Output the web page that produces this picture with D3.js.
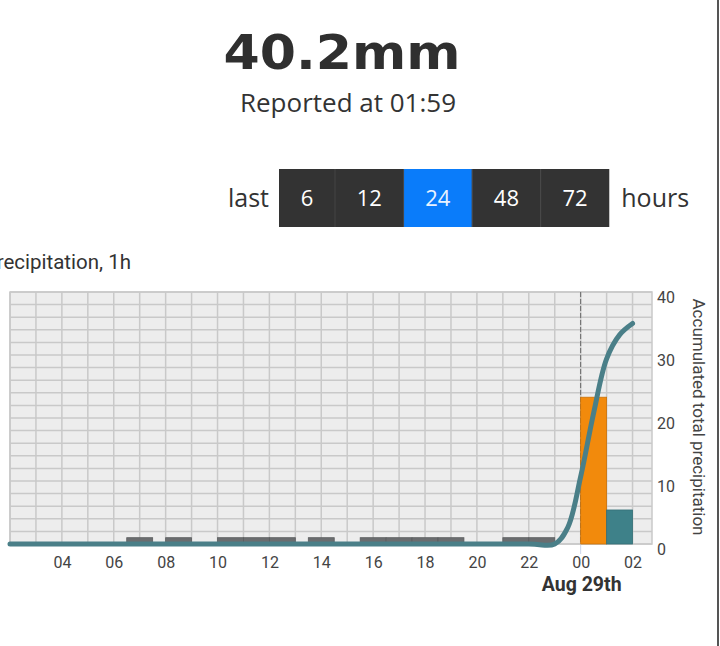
<!DOCTYPE html>
<html>
<head>
<meta charset="utf-8">
<script src="https://cdn.jsdelivr.net/npm/d3@7"></script>
<style>
  body { margin: 0; background: #fff; }
  svg { display: block; }
  text { font-family: Roboto, "Noto Sans", sans-serif; }
</style>
</head>
<body>
<div id="chart"></div>
<script>
// Headline values
var totalLabel = "40.2mm";
var reportedLabel = "Reported at 01:59";
var periodButtons = ["6", "12", "24", "48", "72"];
var selectedPeriod = "24";

// Hourly precipitation bars (start of each hour block, mm)
var barStarts = ["2023-08-28 06:30", "2023-08-28 08:00", "2023-08-28 10:00", "2023-08-28 11:00",
                 "2023-08-28 12:00", "2023-08-28 13:30", "2023-08-28 15:30", "2023-08-28 16:30",
                 "2023-08-28 17:30", "2023-08-28 18:30", "2023-08-28 21:00", "2023-08-28 22:00",
                 "2023-08-29 00:00", "2023-08-29 01:00"];
var barValues = [1, 1, 1, 1, 1, 1, 1, 1, 1, 1, 1, 1, 23.3, 5.4];
var barKinds = ["old", "old", "old", "old", "old", "old", "old", "old", "old", "old", "old", "old", "peak", "last"];

// Accumulated total precipitation line
var accTimes = ["2023-08-28 02:00", "2023-08-28 22:00", "2023-08-28 23:00", "2023-08-28 23:30",
                "2023-08-29 00:00", "2023-08-29 00:30", "2023-08-29 01:00", "2023-08-29 01:30",
                "2023-08-29 02:00"];
var accValues = [0, 0, 0, 2.6, 10.7, 20.8, 29.4, 33.2, 35];

// Axis ticks
var rightTicks = [0, 10, 20, 30, 40];

var parse = d3.timeParse("%Y-%m-%d %H:%M");
var W = 720, H = 646;
var margin = {left: 10, right: 68, top: 292, bottom: 102};

var svg = d3.select("#chart")
  .append("svg")
    .attr("width", W)
    .attr("height", H);

// Header
svg.append("text")
    .attr("x", 342).attr("y", 69)
    .attr("text-anchor", "middle")
    .attr("textLength", 237)
    .attr("lengthAdjust", "spacingAndGlyphs")
    .style("font-family", "'DejaVu Sans', sans-serif")
    .style("font-weight", 700)
    .style("font-size", "48px")
    .style("fill", "#2f2f2f")
    .text(totalLabel);

svg.append("text")
    .attr("x", 348).attr("y", 112)
    .attr("text-anchor", "middle")
    .style("font-family", "'Open Sans', sans-serif")
    .style("font-size", "26px")
    .style("fill", "#333")
    .text(reportedLabel);

// Period selector
var btnY = 169, btnH = 58, btnX = 279, pad = 21.7;
svg.append("text")
    .attr("x", 269).attr("y", 207)
    .attr("text-anchor", "end")
    .style("font-family", "'Open Sans', sans-serif")
    .style("font-size", "25px")
    .style("fill", "#333")
    .text("last");

var bx = btnX;
var btns = svg.append("g");
periodButtons.forEach(function(p, i) {
    var g = btns.append("g");
    var r = g.append("rect")
        .attr("y", btnY).attr("height", btnH)
        .style("fill", p === selectedPeriod ? "#0a7cfa" : "#333");
    var t = g.append("text")
        .attr("y", btnY + btnH / 2)
        .attr("dy", "0.35em")
        .attr("text-anchor", "middle")
        .style("font-family", "'Open Sans', sans-serif")
        .style("font-size", "22px")
        .style("fill", p === selectedPeriod ? "#e8f2ff" : "#fff")
        .text(p);
    var w = t.node().getComputedTextLength() + pad * 2;
    r.attr("x", bx).attr("width", w);
    t.attr("x", bx + w / 2);
    if (i > 0) {
        g.append("line")
            .attr("x1", bx).attr("x2", bx)
            .attr("y1", btnY).attr("y2", btnY + btnH)
            .style("stroke", "#444");
    }
    bx += w;
});

svg.append("text")
    .attr("x", bx + 12).attr("y", 207)
    .style("font-family", "'Open Sans', sans-serif")
    .style("font-size", "25px")
    .style("fill", "#333")
    .text("hours");

// Scales
var x = d3.scaleTime()
    .domain([parse("2023-08-28 02:00"), parse("2023-08-29 02:45")])
    .range([margin.left, W - margin.right]);

var y = d3.scaleLinear()
    .domain([0, 40])
    .range([H - margin.bottom, margin.top]);

// Plot background and grid
var plot = svg.append("g");
plot.append("rect")
    .attr("x", x.range()[0]).attr("y", y.range()[1])
    .attr("width", x.range()[1] - x.range()[0])
    .attr("height", y.range()[0] - y.range()[1])
    .style("fill", "#ededed")
    .style("stroke", "#c9c9c9")
    .style("stroke-width", 1.5);

plot.selectAll(".vgrid")
    .data(x.ticks(d3.timeHour.every(1)))
    .enter().append("line")
    .attr("x1", function(d) { return x(d); })
    .attr("x2", function(d) { return x(d); })
    .attr("y1", y.range()[1]).attr("y2", y.range()[0])
    .style("stroke", "#c9c9c9")
    .style("stroke-width", 1.5);

plot.selectAll(".hgrid")
    .data(y.ticks(20))
    .enter().append("line")
    .attr("x1", x.range()[0]).attr("x2", x.range()[1])
    .attr("y1", function(d) { return y(d); })
    .attr("y2", function(d) { return y(d); })
    .style("stroke", "#c9c9c9")
    .style("stroke-width", 1.5);

// Midnight marker
var midnight = parse("2023-08-29 00:00");
plot.append("line")
    .attr("x1", x(midnight)).attr("x2", x(midnight))
    .attr("y1", y.range()[1]).attr("y2", y.range()[0])
    .style("stroke", "#666")
    .style("stroke-dasharray", "5,2");
plot.append("line")
    .attr("x1", x(midnight)).attr("x2", x(midnight))
    .attr("y1", y.range()[0]).attr("y2", y.range()[0] + 10)
    .style("stroke", "#ccd6eb");

// Bars
var barData = barStarts.map(function(s, i) {
    return {t: parse(s), v: barValues[i], kind: barKinds[i]};
});
var fills = {old: "#6b6d6f", peak: "#f28a0c", last: "#3e8189"};
var strokes = {old: "#5a5c5e", peak: "#c9720a", last: "#356f76"};

plot.selectAll(".bar")
    .data(barData)
    .enter().append("rect")
    .attr("x", function(d) { return x(d.t); })
    .attr("width", function(d) { return x(d3.timeHour.offset(d.t, 1)) - x(d.t); })
    .attr("y", function(d) { return y(d.v); })
    .attr("height", function(d) { return y(0) - y(d.v); })
    .style("fill", function(d) { return fills[d.kind]; })
    .style("stroke", function(d) { return strokes[d.kind]; })
    .style("stroke-width", 0.8);

// Accumulated line
var accData = accTimes.map(function(s, i) { return {t: parse(s), v: accValues[i]}; });
var line = d3.line()
    .x(function(d) { return x(d.t); })
    .y(function(d) { return y(d.v); })
    .curve(d3.curveCatmullRom.alpha(0.5));

plot.append("path")
    .datum(accData)
    .attr("d", line)
    .style("fill", "none")
    .style("stroke", "#4a7f88")
    .style("stroke-width", 5)
    .style("stroke-linecap", "round")
    .style("stroke-linejoin", "round");

// X axis
var xTicks = x.ticks(d3.timeHour.every(2)).filter(function(d) { return x(d) > x.range()[0] + 20; });
var xAxis = svg.append("g")
    .attr("transform", "translate(0," + y.range()[0] + ")")
    .call(d3.axisBottom(x)
        .tickValues(xTicks)
        .tickFormat(d3.timeFormat("%H"))
        .tickSize(0)
        .tickPadding(13));
xAxis.select(".domain").remove();
xAxis.selectAll("text")
    .style("font-size", "16px")
    .style("fill", "#444");

svg.append("text")
    .attr("x", x(midnight) + 1).attr("y", 591)
    .attr("text-anchor", "middle")
    .style("font-size", "19.5px")
    .style("font-weight", 700)
    .style("fill", "#333")
    .text("Aug 29th");

// Right axis
var yAxis = svg.append("g")
    .attr("transform", "translate(" + x.range()[1] + ",5)")
    .call(d3.axisRight(y).tickValues(rightTicks).tickSize(0).tickPadding(5));
yAxis.select(".domain").remove();
yAxis.selectAll("text")
    .style("font-size", "16px")
    .style("fill", "#444");

svg.append("text")
    .attr("transform", "translate(699," + (y(20) - 1) + ") rotate(90)")
    .attr("text-anchor", "middle")
    .attr("dy", "0.35em")
    .style("font-size", "17px")
    .style("fill", "#444")
    .text("Accumulated total precipitation");

// Left axis title (partly off the page)
svg.append("text")
    .attr("x", 131).attr("y", 269)
    .attr("text-anchor", "end")
    .style("font-size", "20.5px")
    .style("fill", "#333")
    .text("Precipitation, 1h");

// Frame edge on the right
svg.append("line")
    .attr("x1", 718).attr("x2", 718)
    .attr("y1", 0).attr("y2", H)
    .style("stroke", "#555")
    .style("stroke-width", 2);
</script>
</body>
</html>
